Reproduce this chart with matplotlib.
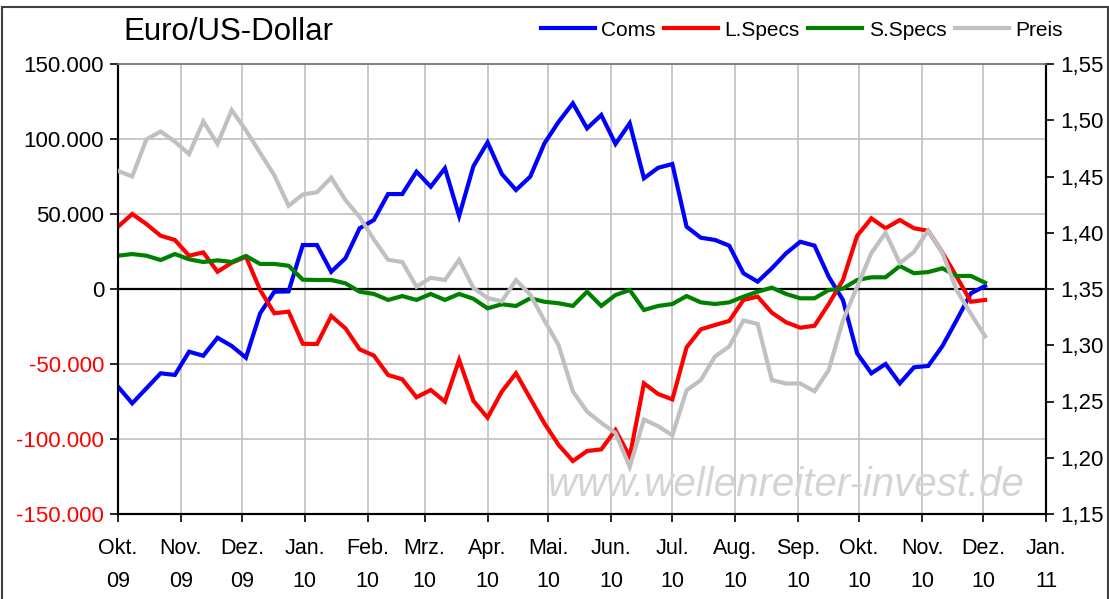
import matplotlib
matplotlib.use("Agg")
import matplotlib.pyplot as plt
from matplotlib.patches import Rectangle
import pandas as pd
import numpy as np

# weekly COT positions, Okt 2009 - Dez 2010
dates = pd.date_range("2009-10-01", periods=62, freq="7D")

coms = [-65100, -76200, -66200, -56200, -57300, -41800, -44500, -32500, -38000, -45800,
        -16200, -1800, -1600, 29300, 29300, 11500, 20500, 40500, 46000, 63300,
        63300, 78200, 68200, 80500, 48700, 81800, 97800, 76700, 66000, 74900,
        97100, 111500, 123800, 107100, 116000, 96700, 110500, 73800, 80800, 83300,
        41500, 34200, 32700, 28900, 10500, 4900, 13800, 23800, 31500, 28900,
        8200, -7300, -42900, -56200, -50000, -62900, -52200, -51300, -38000, -20700,
        -2900, 2000]

lspecs = [41500, 50000, 43300, 35500, 32700, 22200, 24400, 11500, 17500, 21500,
          -700, -16200, -15100, -36500, -36700, -18000, -26200, -40200, -44400, -57300,
          -60200, -72200, -67300, -75100, -47300, -74500, -85800, -68400, -56200, -72900,
          -89600, -104000, -114700, -108000, -106900, -94000, -111800, -62900, -70000, -73600,
          -38900, -26900, -24000, -21300, -7300, -5100, -15800, -22200, -25800, -24500,
          -10000, 6000, 35500, 47100, 40500, 46000, 40500, 38800, 24300, 8200,
          -8500, -7300]

sspecs = [22200, 23300, 22200, 19300, 23300, 19800, 18000, 19100, 18000, 22000,
          16700, 16700, 15500, 6200, 6000, 6000, 3800, -1800, -3300, -7300,
          -4700, -7300, -3300, -7300, -3300, -6500, -12900, -10200, -11300, -6200,
          -8500, -9500, -11300, -1800, -11300, -4000, -700, -14000, -11300, -10000,
          -4700, -8900, -10000, -8900, -5100, -1800, 900, -3300, -6200, -6200,
          -700, 300, 6000, 7800, 7800, 15300, 10500, 11300, 13800, 8700,
          8700, 4200]

preis = [1.455, 1.450, 1.483, 1.490, 1.481, 1.470, 1.499, 1.479, 1.509, 1.491,
         1.471, 1.451, 1.424, 1.434, 1.436, 1.449, 1.429, 1.414, 1.394, 1.376,
         1.374, 1.352, 1.360, 1.358, 1.376, 1.351, 1.342, 1.339, 1.358, 1.345,
         1.322, 1.300, 1.259, 1.241, 1.231, 1.222, 1.192, 1.234, 1.228, 1.220,
         1.260, 1.269, 1.290, 1.299, 1.322, 1.319, 1.269, 1.266, 1.266, 1.259,
         1.278, 1.322, 1.352, 1.382, 1.400, 1.373, 1.383, 1.402, 1.382, 1.349,
         1.328, 1.308]

month_names = ["Okt.", "Nov.", "Dez.", "Jan.", "Feb.", "Mrz.", "Apr.", "Mai.",
               "Jun.", "Jul.", "Aug.", "Sep.", "Okt.", "Nov.", "Dez.", "Jan."]
month_years = ["09", "09", "09", "10", "10", "10", "10", "10",
               "10", "10", "10", "10", "10", "10", "10", "11"]

series_names = ["Coms", "L.Specs", "S.Specs", "Preis"]
series_colors = ["#0000ff", "#ff0000", "#008000", "#c0c0c0"]

plt.rcParams["font.family"] = ["Liberation Sans", "DejaVu Sans"]

W, H = 1109, 599
fig = plt.figure(figsize=(W / 100, H / 100), dpi=100)
ax = fig.add_axes([118 / W, 1 - 514 / H, (1046 - 118) / W, (514 - 64) / H])
ax2 = ax.twinx()

x0 = pd.Timestamp("2009-10-01")
x1 = pd.Timestamp("2011-01-01")
month_ticks = pd.date_range(x0, x1, freq="MS")

# grid
ax.set_axisbelow(True)
for t in month_ticks:
    ax.axvline(t, color="#c0c0c0", lw=1.2, zorder=0)
for v in np.arange(-100000, 150001, 50000):
    ax.axhline(v, color="#c0c0c0", lw=1.2, zorder=0)
ax.axhline(0, color="black", lw=1.6, zorder=1)

lw = 3.0
lines = []
for vals, name, col in zip([coms, lspecs, sspecs], series_names[:3], series_colors[:3]):
    l, = ax.plot(dates, vals, color=col, lw=lw, label=name, zorder=3,
                 solid_joinstyle="miter")
    lines.append(l)
l, = ax2.plot(dates, preis, color=series_colors[3], lw=lw, label=series_names[3],
              zorder=3, solid_joinstyle="miter")
lines.append(l)

ax.set_xlim(x0, x1)
ax.set_ylim(-150000, 150000)
ax2.set_ylim(1.15, 1.55)

ax.set_xticks(month_ticks)
ax.set_xticklabels([m + "\n" + y for m, y in zip(month_names, month_years)],
                   linespacing=1.75)
yvals = np.arange(-150000, 150001, 50000)
ax.set_yticks(yvals)
ax.set_yticklabels([f"{v:,.0f}".replace(",", ".") for v in yvals])
for lab, v in zip(ax.get_yticklabels(), yvals):
    if v < 0:
        lab.set_color("#ff0000")
rvals = np.arange(1.15, 1.5501, 0.05)
ax2.set_yticks(rvals)
ax2.set_yticklabels([f"{v:.2f}".replace(".", ",") for v in rvals])

ax.tick_params(axis="x", direction="out", length=6, width=1.2, pad=11, labelsize=15.5)
ax.tick_params(axis="y", direction="out", length=6, width=1.2, pad=4, labelsize=16)
ax2.tick_params(axis="y", direction="out", length=6, width=1.2, pad=4, labelsize=16)

for a in (ax, ax2):
    for s in ("left", "right", "bottom"):
        a.spines[s].set_color("black")
        a.spines[s].set_linewidth(1.5)
    a.spines["top"].set_color("#808080")
    a.spines["top"].set_linewidth(1.2)

# title and legend
fig.text(123 / W, 1 - 32 / H, "Euro/US-Dollar", fontsize=22.5, va="center", ha="left")
fig.legend(handles=lines, labels=series_names, ncol=4, frameon=False,
           loc="center left", bbox_to_anchor=(541 / W, 1 - 30 / H),
           fontsize=15, handlelength=2.6, handletextpad=0.3, columnspacing=0.4,
           borderaxespad=0, borderpad=0)

# watermark
fig.text(786 / W, 1 - 485 / H, "www.wellenreiter-invest.de", fontsize=29,
         color="#d4d4d4", style="italic", ha="center", va="center", zorder=0)

# outer frame (bottom edge runs off the picture)
fig.patches.append(Rectangle((1.5 / W, -0.02), (W - 3) / W, 1.02 - 6.5 / H,
                             transform=fig.transFigure, fill=False,
                             edgecolor="#404040", lw=1.5))

fig.savefig("out.png", dpi=100)
